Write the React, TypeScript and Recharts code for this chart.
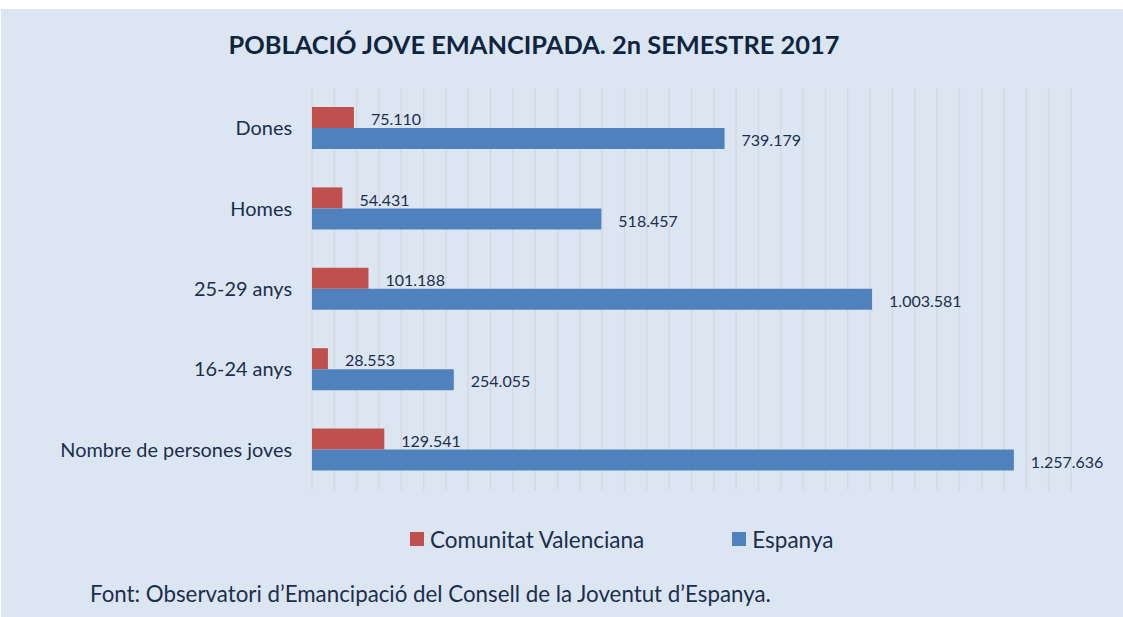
import { Bar, BarChart, CartesianGrid, LabelList, Legend, XAxis, YAxis } from 'recharts'

const CATEGORIES = ['Dones', 'Homes', '25-29 anys', '16-24 anys', 'Nombre de persones joves']
const VALENCIANA = [75110, 54431, 101188, 28553, 129541]
const ESPANYA = [739179, 518457, 1003581, 254055, 1257636]
const X_MAX = 1360000
const X_STEP = 40000
const X_TICKS = Array.from({ length: X_MAX / X_STEP + 1 }, (_, i) => i * X_STEP)

const TITLE = 'POBLACIÓ JOVE EMANCIPADA. 2n SEMESTRE 2017'
const SOURCE = 'Font: Observatori d’Emancipació del Consell de la Joventut d’Espanya.'

const RED = '#C0504D'
const BLUE = '#4F81BD'
const BG = '#DCE6F2'
const TEXT = '#1B2E4B'
const FONT = 'Lato, "Open Sans", sans-serif'

const fmt = (v: unknown) => String(v).replace(/\B(?=(\d{3})+(?!\d))/g, '.')

function LegendContent({ payload }: { payload?: Array<{ value?: string; color?: string }> }) {
  return (
    <div style={{ display: 'flex', alignItems: 'center', height: 24, gap: 88, fontFamily: FONT, fontSize: 22.5, color: TEXT }}>
      {(payload ?? []).map((p) => (
        <div key={p.value} style={{ display: 'flex', alignItems: 'center', gap: 6 }}>
          <span style={{ width: 14, height: 14, background: p.color, display: 'inline-block' }} />
          <span>{p.value}</span>
        </div>
      ))}
    </div>
  )
}

export default function App() {
  const data = CATEGORIES.map((c, i) => ({ cat: c, cv: VALENCIANA[i], esp: ESPANYA[i] }))
  return (
    <div style={{ position: 'absolute', left: 1, top: 9, width: 1122, height: 608, background: BG }}>
      <style>{'body{margin:0}'}</style>
      <div
        style={{
          position: 'absolute',
          left: 0,
          width: 1066,
          top: 20,
          textAlign: 'center',
          fontFamily: FONT,
          fontWeight: 700,
          fontSize: 25.4,
          color: '#0F243E',
        }}
      >
        {TITLE}
      </div>
      <BarChart
        width={1122}
        height={608}
        data={data}
        layout="vertical"
        barGap={0}
        barSize={21}
        margin={{ top: 79, right: 52, left: 0, bottom: 127 }}
      >
        <CartesianGrid horizontal={false} stroke="#D5D9DF" strokeWidth={1.5} />
        <XAxis
          type="number"
          domain={[0, X_MAX]}
          ticks={X_TICKS}
          interval={0}
          tick={() => <g />}
          axisLine={false}
          tickLine={false}
          height={0}
        />
        <YAxis
          type="category"
          dataKey="cat"
          width={311}
          axisLine={false}
          tickLine={false}
          tickSize={0}
          tickMargin={20}
          tick={{ fill: TEXT, fontSize: 19.9, fontFamily: FONT }}
        />
        <Legend
          verticalAlign="middle"
          align="center"
          layout="horizontal"
          wrapperStyle={{ top: 518, left: 409, width: 'auto' }}
          content={<LegendContent />}
        />
        <Bar dataKey="cv" name="Comunitat Valenciana" fill={RED} isAnimationActive={false}>
          <LabelList dataKey="cv" position="right" offset={17} dy={2} formatter={fmt} fill={TEXT} fontSize={16} fontFamily={FONT} />
        </Bar>
        <Bar dataKey="esp" name="Espanya" fill={BLUE} isAnimationActive={false}>
          <LabelList dataKey="esp" position="right" offset={17} dy={2} formatter={fmt} fill={TEXT} fontSize={16} fontFamily={FONT} />
        </Bar>
      </BarChart>
      <div style={{ position: 'absolute', left: 89, top: 571, fontFamily: FONT, fontSize: 22.3, color: TEXT }}>{SOURCE}</div>
    </div>
  )
}
